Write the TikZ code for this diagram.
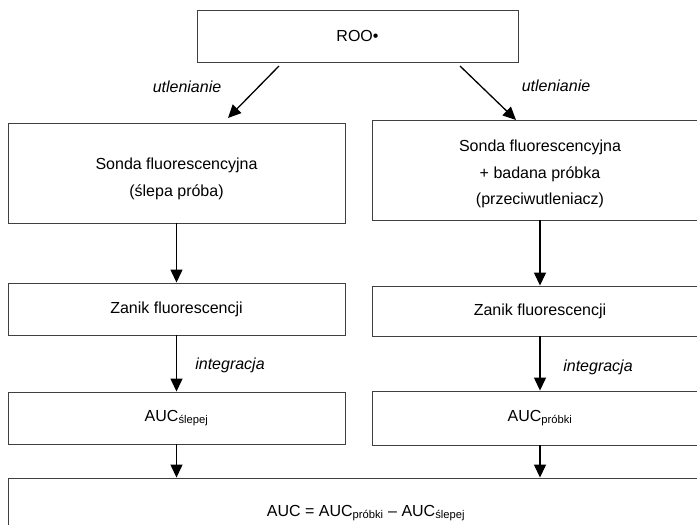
\documentclass[tikz,border=0pt]{standalone}
\usepackage{fontspec}
\setmainfont{Liberation Sans}
\usetikzlibrary{arrows.meta,calc}
\tikzset{
  box/.style={draw=black!75, line width=0.9pt, fill=white, inner sep=0pt, align=center,
              font=\fontsize{16}{26.5}\selectfont},
  txt/.style={inner sep=0pt, align=center, font=\fontsize{16}{26.5}\selectfont},
  lbl/.style={inner sep=0pt, font=\fontsize{16}{19}\selectfont\itshape},
  arr/.style={draw=black, line width=1.3pt, -{Triangle[width=12pt,length=13pt]}}
}
\begin{document}
\begin{tikzpicture}[x=1pt,y=-1pt]
\useasboundingbox (0,0) rectangle (697,525);
\fill[white] (0,0) rectangle (697,525);
\clip (0,0) rectangle (697,525);

\node[box, minimum width=321pt, minimum height=52pt] (top) at (357.5,36) {ROO•};

\node[box, minimum width=337pt, minimum height=100pt] (l2) at (176.5,173) {};
\node[txt] (l2t) at (176.5,179) {Sonda fluorescencyjna\\(ślepa próba)};
\node[box, minimum width=336pt, minimum height=100pt] (r2) at (540,170) {};
\node[txt] (r2t) at (540,174) {Sonda fluorescencyjna\\+ badana próbka\\(przeciwutleniacz)};

\node[box, minimum width=337pt, minimum height=52pt] (l3) at (176.5,309) {Zanik fluorescencji};
\node[box, minimum width=336pt, minimum height=50pt] (r3) at (540,311) {Zanik fluorescencji};

\node[box, minimum width=337pt, minimum height=52pt] (l4) at (176.5,418) {AUC\textsubscript{ślepej}};
\node[box, minimum width=336pt, minimum height=54pt] (r4) at (540,418) {AUC\textsubscript{próbki}};

\node[box, minimum width=716pt, minimum height=70pt] (bot) at (366,513) {AUC = AUC\textsubscript{próbki} – AUC\textsubscript{ślepej}};

% diagonal arrows
\coordinate (tl) at (279,66);
\coordinate (tr) at (460,66);
\coordinate (el) at (228,118);
\coordinate (er) at (516,120);
\draw[arr] (tl) -- (el);
\draw[arr] (tr) -- (er);

\node[lbl] (u1) at (187,87) {utlenianie};
\node[lbl] (u2) at (556,86) {utlenianie};

% vertical arrows
\draw[arr] (l2.south) -- (l3.north);
\draw[arr] (r2.south) -- (r3.north);
\draw[arr] (l3.south) -- (l4.north);
\draw[arr] (r3.south) -- (r4.north);
\draw[arr] (l4.south) -- (l4.south |- bot.north);
\draw[arr] (r4.south) -- (r4.south |- bot.north);

\node[lbl] (i1) at (230,365) {integracja};
\node[lbl] (i2) at (598,367) {integracja};
\end{tikzpicture}
\end{document}
